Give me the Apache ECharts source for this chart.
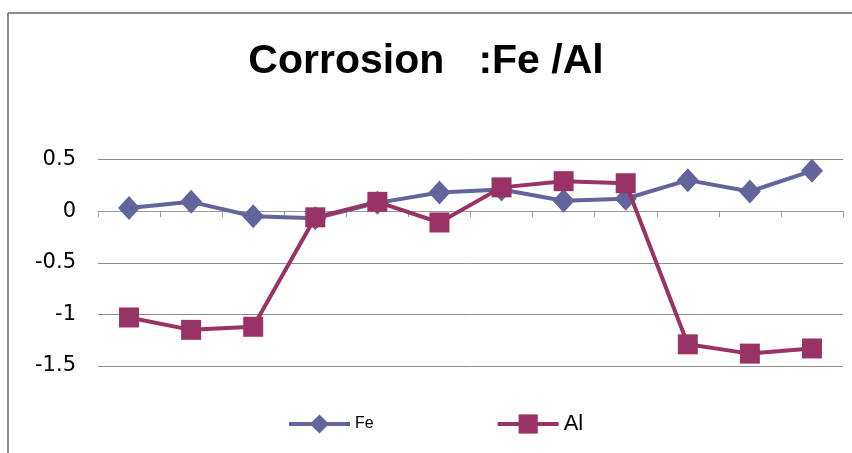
<!DOCTYPE html>
<html><head><meta charset="utf-8">
<script src="https://cdn.jsdelivr.net/npm/echarts@6/dist/echarts.min.js"></script>
<style>html,body{margin:0;padding:0;background:#fff}#c{width:852px;height:453px}</style>
</head><body><div id="c"></div>
<script>
var categories = ['1','2','3','4','5','6','7','8','9','10','11','12'];
var feValues = [0.03, 0.09, -0.05, -0.07, 0.08, 0.18, 0.21, 0.10, 0.12, 0.30, 0.19, 0.39];
var alValues = [-1.03, -1.15, -1.12, -0.06, 0.09, -0.11, 0.23, 0.29, 0.27, -1.29, -1.38, -1.33];
var yTicks = [-1.5, -1, -0.5, 0, 0.5];

var chart = echarts.init(document.getElementById('c'), null, {renderer:'canvas'});
chart.setOption({
  animation:false,
  backgroundColor:'#fff',
  title:{text:'Corrosion   :Fe /Al', left:'center', top:36,
    textStyle:{fontFamily:'Liberation Sans', fontWeight:'bold', fontSize:41, color:'#000'}},
  graphic:[
    {type:'line', shape:{x1:8,y1:13,x2:852,y2:13}, style:{stroke:'#8a8a8a', lineWidth:2}},
    {type:'line', shape:{x1:8,y1:13,x2:8,y2:453}, style:{stroke:'#8a8a8a', lineWidth:2}}
  ],
  grid:{left:98, right:9, top:159.5, bottom:87},
  legend:{left:282, top:408, itemWidth:61, itemHeight:24, itemGap:122,
    lineStyle:{width:4},
    textStyle:{fontFamily:'Liberation Sans', color:'#000'},
    data:[{name:'Fe', textStyle:{fontSize:16}}, {name:'Al', textStyle:{fontSize:22}}]},
  xAxis:{type:'category', data:categories, boundaryGap:true,
    axisLine:{onZero:true, lineStyle:{color:'#999', width:1}},
    axisTick:{show:true, length:6, lineStyle:{color:'#999'}},
    axisLabel:{show:false}, splitLine:{show:false}},
  yAxis:{type:'value', min:yTicks[0], max:yTicks[yTicks.length-1], interval:0.5,
    axisLine:{show:false}, axisTick:{show:false},
    axisLabel:{margin:22, fontFamily:'DejaVu Sans', fontSize:21, color:'#000',
      formatter:function(v){return String(v);}},
    splitLine:{lineStyle:{color:'#8c8c8c', width:1}}},
  series:[
    {name:'Fe', type:'line', data:feValues, symbol:'diamond', symbolSize:[22,24],
      lineStyle:{color:'#64649c', width:4}, itemStyle:{color:'#64649c'}, z:2},
    {name:'Al', type:'line', data:alValues, symbol:'rect', symbolSize:20,
      lineStyle:{color:'#993366', width:4}, itemStyle:{color:'#993366'}, z:3}
  ]
});
</script></body></html>
